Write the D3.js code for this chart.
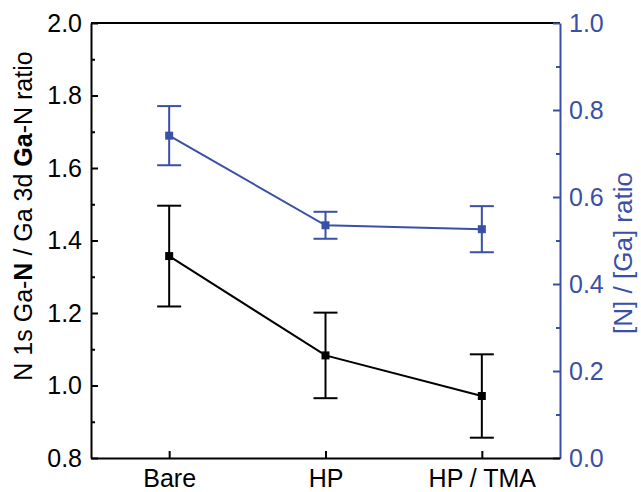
<!DOCTYPE html>
<html>
<head>
<meta charset="utf-8">
<script src="https://cdn.jsdelivr.net/npm/d3@7"></script>
<style>
  body { margin: 0; background: #fff; }
  text { font-family: "Liberation Sans", Arial, sans-serif; }
</style>
</head>
<body>
<svg id="svg" width="641" height="492"></svg>
<script>
// data
var categories = ["Bare", "HP", "HP / TMA"];
var gaNRatio = [1.357, 1.083, 0.971];     // left axis, black
var gaNErr = [0.139, 0.118, 0.115];
var nGaRatio = [0.741, 0.535, 0.526];     // right axis, blue
var nGaErr = [0.068, 0.031, 0.053];
var leftTicks = [0.8, 1.0, 1.2, 1.4, 1.6, 1.8, 2.0];
var leftMinor = [0.9, 1.1, 1.3, 1.5, 1.7, 1.9];
var rightTicks = [0.0, 0.2, 0.4, 0.6, 0.8, 1.0];
var rightMinor = [0.1, 0.3, 0.5, 0.7, 0.9];

var blue = "#3a4fa6";

var svg = d3.select("#svg"),
  margin = { top: 23, right: 81, bottom: 34, left: 91 },
  width = +svg.attr("width") - margin.left - margin.right,
  height = +svg.attr("height") - margin.top - margin.bottom;

var g = svg.append("g").attr("transform", "translate(" + margin.left + "," + margin.top + ")");

var xScale = d3.scalePoint().domain(categories).range([0, width]).padding(0.5);
var yLeft = d3.scaleLinear().domain([0.8, 2.0]).range([height, 0]);
var yRight = d3.scaleLinear().domain([0, 1]).range([height, 0]);

// frame top
g.append("line").attr("x1", 0).attr("x2", width).attr("y1", 0).attr("y2", 0)
  .attr("stroke", "black").attr("stroke-width", 2);

// minor ticks
g.append("g").call(d3.axisLeft(yLeft).tickValues(leftMinor).tickSize(-4).tickFormat(""))
  .call(function (a) { a.select(".domain").remove(); a.selectAll("line").attr("stroke-width", 2); });
g.append("g").attr("transform", "translate(" + width + ",0)")
  .call(d3.axisRight(yRight).tickValues(rightMinor).tickSize(-4).tickFormat(""))
  .call(function (a) { a.select(".domain").remove(); a.selectAll("line").attr("stroke", blue).attr("stroke-width", 2); });

// left axis
g.append("g")
  .call(d3.axisLeft(yLeft).tickValues(leftTicks).tickSize(-7).tickPadding(9).tickSizeOuter(0)
    .tickFormat(d3.format(".1f")))
  .call(function (a) {
    a.select(".domain").attr("stroke-width", 2);
    a.selectAll("line").attr("stroke-width", 2);
    a.selectAll("text").attr("font-size", 25).attr("fill", "black");
  });

// right axis
g.append("g").attr("transform", "translate(" + width + ",0)")
  .call(d3.axisRight(yRight).tickValues(rightTicks).tickSize(-7).tickPadding(9).tickSizeOuter(0)
    .tickFormat(d3.format(".1f")))
  .call(function (a) {
    a.select(".domain").attr("stroke", blue).attr("stroke-width", 2);
    a.selectAll("line").attr("stroke", blue).attr("stroke-width", 2);
    a.selectAll("text").attr("font-size", 25).attr("fill", blue);
  });

// bottom axis
g.append("g").attr("transform", "translate(0," + height + ")")
  .call(d3.axisBottom(xScale).tickSize(-7).tickPadding(11).tickSizeOuter(0))
  .call(function (a) {
    a.select(".domain").attr("stroke-width", 2);
    a.selectAll("line").attr("stroke-width", 2);
    a.selectAll("text").attr("font-size", 25).attr("fill", "black");
  });

// axis titles
var lt = svg.append("text")
  .attr("transform", "translate(32,216) rotate(-90)")
  .attr("text-anchor", "middle").attr("font-size", 25).attr("fill", "black");
lt.append("tspan").text("N 1s Ga-");
lt.append("tspan").attr("font-weight", "bold").text("N");
lt.append("tspan").text(" / Ga 3d ");
lt.append("tspan").attr("font-weight", "bold").text("Ga");
lt.append("tspan").text("-N ratio");

svg.append("text")
  .attr("transform", "translate(632,253) rotate(-90)")
  .attr("text-anchor", "middle").attr("font-size", 26).attr("fill", blue)
  .text("[N] / [Ga] ratio");

function drawSeries(vals, errs, y, color) {
  var pts = categories.map(function (c, i) { return { c: c, v: vals[i], e: errs[i] }; });
  var line = d3.line().x(function (d) { return xScale(d.c); }).y(function (d) { return y(d.v); });
  g.append("path").datum(pts).attr("d", line).attr("fill", "none")
    .attr("stroke", color).attr("stroke-width", 2);
  var eb = g.append("g").attr("stroke", color).attr("stroke-width", 2);
  pts.forEach(function (d) {
    var x = xScale(d.c);
    eb.append("line").attr("x1", x).attr("x2", x).attr("y1", y(d.v + d.e)).attr("y2", y(d.v - d.e));
    eb.append("line").attr("x1", x - 12).attr("x2", x + 12).attr("y1", y(d.v + d.e)).attr("y2", y(d.v + d.e));
    eb.append("line").attr("x1", x - 12).attr("x2", x + 12).attr("y1", y(d.v - d.e)).attr("y2", y(d.v - d.e));
  });
  g.selectAll(null).data(pts).enter().append("rect")
    .attr("x", function (d) { return xScale(d.c) - 4; })
    .attr("y", function (d) { return y(d.v) - 4; })
    .attr("width", 8).attr("height", 8).attr("fill", color);
}

drawSeries(gaNRatio, gaNErr, yLeft, "black");
drawSeries(nGaRatio, nGaErr, yRight, blue);
</script>
</body>
</html>
